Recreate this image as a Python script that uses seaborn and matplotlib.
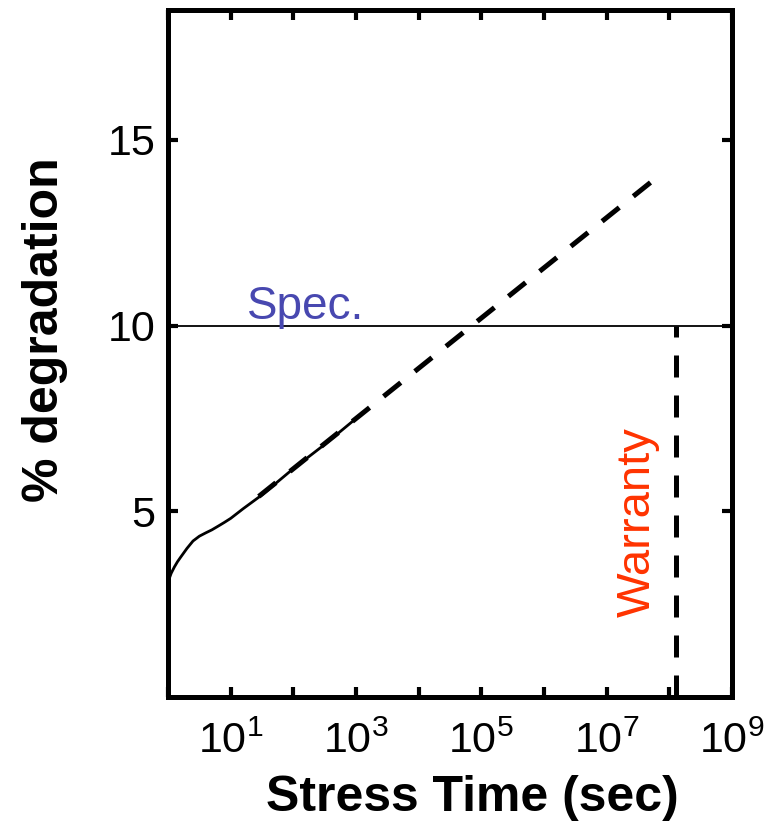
import math
import matplotlib
matplotlib.use('Agg')
import pandas as pd
import matplotlib.pyplot as plt
import matplotlib.ticker as mticker
import seaborn as sns

# measured degradation (solid curve)
stress_time = [1, 1.12, 1.26, 1.41, 1.58, 2.0, 2.5, 3.16, 4.0, 5.0, 6.3, 7.9, 10,
               15.8, 32, 100, 316, 1000, 1260]
degradation = [3.1, 3.33, 3.5, 3.64, 3.76, 4.0, 4.2, 4.33, 4.42, 4.5, 4.6, 4.7, 4.81,
               5.07, 5.45, 6.15, 6.8, 7.5, 7.65]

# power-law extrapolation (dashed)
extrap_time = [28, 7.0e7]
extrap_degr = [5.4, 14.05]

spec_limit = 10
warranty_time = [1.3e8, 1.3e8]
warranty_degr = [0, 10]

yticks = [5, 10, 15]
xlim = (1, 1e9)
ylim = (0, 18.5)


def decade_label(v, pos):
    e = int(round(math.log10(v)))
    if e % 2 == 1:
        return '$10^{%d}$' % e
    return ''


def main():
    sns.set_style('ticks')
    plt.rcParams['font.family'] = ['Liberation Sans', 'DejaVu Sans']
    plt.rcParams['mathtext.default'] = 'regular'

    fig = plt.figure(figsize=(7.64, 8.32), dpi=100)
    ax = fig.add_axes([0.22, 0.1623, 0.738, 0.8257])

    meas = pd.DataFrame({'t': stress_time, 'd': degradation})
    ext = pd.DataFrame({'t': extrap_time, 'd': extrap_degr})
    war = pd.DataFrame({'t': warranty_time, 'd': warranty_degr})

    sns.lineplot(data=meas, x='t', y='d', ax=ax, color='black', lw=2.0, estimator=None)
    sns.lineplot(data=ext, x='t', y='d', ax=ax, color='black', lw=3.6,
                 estimator=None, linestyle=(0, (4.4, 3.6)))
    sns.lineplot(data=war, x='t', y='d', ax=ax, color='black', lw=3.6,
                 estimator=None, sort=False, linestyle=(0, (4.4, 3.6)))
    ax.axhline(spec_limit, color='black', lw=1.3)

    ax.text(155, 10.19, 'Spec.', color='#4848B0', fontsize=33,
            ha='center', va='baseline')
    ax.text(3.2e7, 4.7, 'Warranty', color='#FF3300', fontsize=34,
            rotation=90, ha='center', va='center')

    ax.set_xscale('log')
    ax.set_xlim(*xlim)
    ax.set_ylim(*ylim)
    ax.xaxis.set_major_locator(mticker.LogLocator(base=10, numticks=20))
    ax.xaxis.set_minor_locator(mticker.NullLocator())
    ax.xaxis.set_major_formatter(mticker.FuncFormatter(decade_label))
    ax.set_yticks(yticks)
    ax.set_yticklabels([str(v) for v in yticks])

    ax.tick_params(axis='both', which='major', direction='in', length=7, width=3,
                   top=True, right=True, labelsize=31, color='black',
                   labelcolor='black')
    ax.tick_params(axis='x', pad=18)
    ax.tick_params(axis='y', pad=9)
    for s in ax.spines.values():
        s.set_linewidth(3.6)
        s.set_color('black')

    ax.set_xlabel('Stress Time (sec)', fontsize=36, fontweight='bold', color='black')
    ax.set_ylabel('% degradation', fontsize=36, fontweight='bold', color='black')
    ax.xaxis.set_label_coords(0.539, -0.114)
    ax.yaxis.set_label_coords(-0.178, 0.534)

    fig.savefig('out.png', dpi=100)


if __name__ == '__main__':
    main()
